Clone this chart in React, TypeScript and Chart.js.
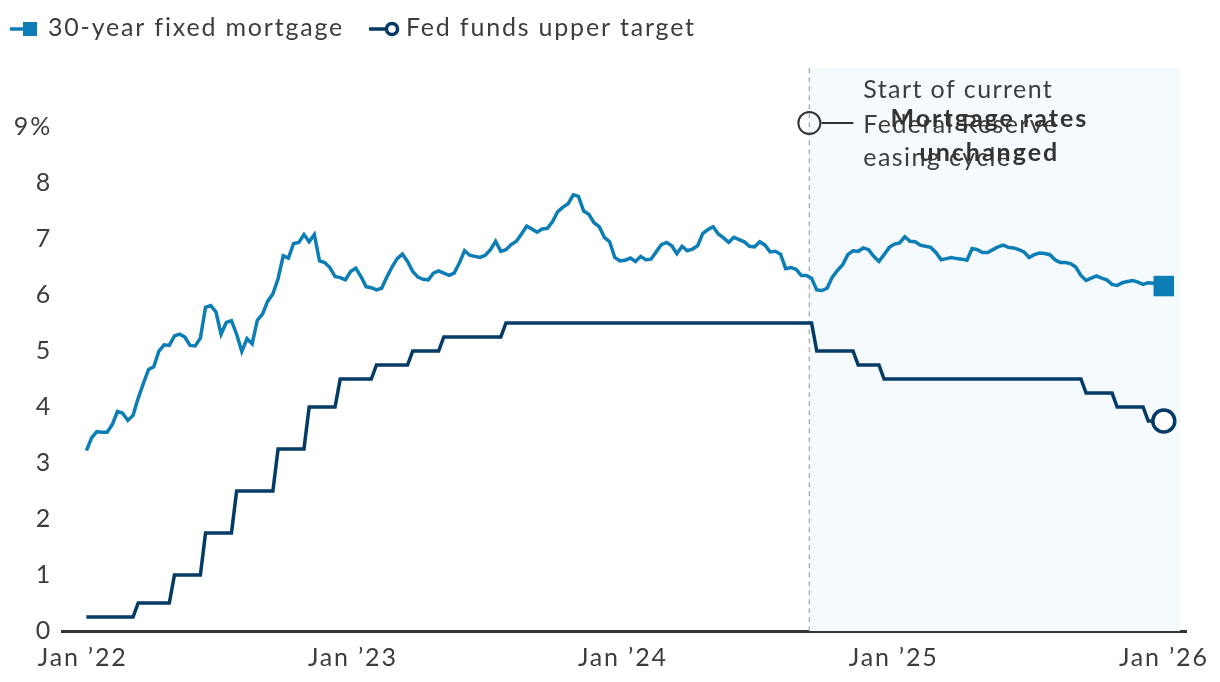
import React, { useEffect, useRef } from "react";
import { Chart, registerables } from "chart.js";

Chart.register(...registerables);

// ---------- DATA ----------
const mortgageFirstWeek = "2022-01-06"; // weekly (Thursday) survey dates from here on

const mortgage2022 = [
  3.22, 3.45, 3.56, 3.55, 3.55, 3.69, 3.92, 3.89, 3.76, 3.85, 4.16, 4.42, 4.67,
  4.72, 5.0, 5.11, 5.1, 5.27, 5.3, 5.25, 5.1, 5.09, 5.23, 5.78, 5.81, 5.7, 5.3,
  5.51, 5.54, 5.3, 4.99, 5.22, 5.13, 5.55, 5.66, 5.89, 6.02, 6.29, 6.7, 6.66,
  6.92, 6.94, 7.08, 6.95, 7.08, 6.61, 6.58, 6.49, 6.33, 6.31, 6.27, 6.42,
];
const mortgage2023 = [
  6.48, 6.33, 6.15, 6.13, 6.09, 6.12, 6.32, 6.5, 6.65, 6.73, 6.6, 6.42, 6.32,
  6.28, 6.27, 6.39, 6.43, 6.39, 6.35, 6.39, 6.57, 6.79, 6.71, 6.69, 6.67, 6.71,
  6.81, 6.96, 6.78, 6.81, 6.9, 6.96, 7.09, 7.23, 7.18, 7.12, 7.18, 7.19, 7.31,
  7.49, 7.57, 7.63, 7.79, 7.76, 7.5, 7.44, 7.29, 7.22, 7.03, 6.95, 6.67, 6.61,
];
const mortgage2024 = [
  6.62, 6.66, 6.6, 6.69, 6.63, 6.64, 6.77, 6.9, 6.94, 6.88, 6.74, 6.87, 6.79,
  6.82, 6.88, 7.1, 7.17, 7.22, 7.09, 7.02, 6.94, 7.03, 6.99, 6.95, 6.87, 6.86,
  6.95, 6.89, 6.77, 6.78, 6.73, 6.47, 6.49, 6.46, 6.35, 6.35, 6.3, 6.09, 6.08,
  6.12, 6.32, 6.44, 6.54, 6.72, 6.79, 6.78, 6.84, 6.81, 6.69, 6.6, 6.72, 6.85,
];
const mortgage2025 = [
  6.91, 6.93, 7.04, 6.96, 6.95, 6.89, 6.87, 6.85, 6.76, 6.63, 6.65, 6.67, 6.65,
  6.64, 6.62, 6.83, 6.81, 6.76, 6.76, 6.81, 6.86, 6.89, 6.85, 6.84, 6.81, 6.77,
  6.67, 6.72, 6.75, 6.74, 6.72, 6.63, 6.58, 6.58, 6.56, 6.5, 6.35, 6.26, 6.3,
  6.34, 6.3, 6.27, 6.19, 6.17, 6.22, 6.24, 6.26, 6.23, 6.19, 6.22, 6.21, 6.18,
];
const mortgage2026 = [6.16];

// Fed funds upper target, weekly readings around each change
const fedFunds: [string, number][] = [
  ["2022-01-06", 0.25], ["2022-03-10", 0.25], ["2022-03-17", 0.5],
  ["2022-04-28", 0.5], ["2022-05-05", 1.0], ["2022-06-09", 1.0],
  ["2022-06-16", 1.75], ["2022-07-21", 1.75], ["2022-07-28", 2.5],
  ["2022-09-15", 2.5], ["2022-09-22", 3.25], ["2022-10-27", 3.25],
  ["2022-11-03", 4.0], ["2022-12-08", 4.0], ["2022-12-15", 4.5],
  ["2023-01-26", 4.5], ["2023-02-02", 4.75], ["2023-03-16", 4.75],
  ["2023-03-23", 5.0], ["2023-04-27", 5.0], ["2023-05-04", 5.25],
  ["2023-07-20", 5.25], ["2023-07-27", 5.5], ["2024-09-12", 5.5],
  ["2024-09-19", 5.0], ["2024-11-07", 5.0], ["2024-11-14", 4.75],
  ["2024-12-12", 4.75], ["2024-12-19", 4.5], ["2025-09-11", 4.5],
  ["2025-09-18", 4.25], ["2025-10-23", 4.25], ["2025-10-30", 4.0],
  ["2025-12-04", 4.0], ["2025-12-11", 3.75], ["2026-01-01", 3.75],
];

const xTickDates = ["2022-01-01", "2023-01-01", "2024-01-01", "2025-01-01", "2026-01-01"];
const xTickLabels = ["Jan \u201922", "Jan \u201923", "Jan \u201924", "Jan \u201925", "Jan \u201926"];
const yTickValues = [0, 1, 2, 3, 4, 5, 6, 7, 8, 9];
const xRange = ["2021-12-04", "2026-01-31"];
const yRange = [0, 10];

const easingStart = "2024-09-09";
const shadeEnd = "2026-01-23";
const easingMarkerY = 9.07;
const easingNote = ["Start of current", "Federal Reserve", "easing cycle"];
const calloutNote = ["Mortgage rates", "unchanged"];

const seriesNames = ["30-year fixed mortgage", "Fed funds upper target"];

// ---------- STYLE ----------
const MORTGAGE = "#0c7db5";
const FED = "#033b66";
const TEXT = "#3d3d3d";
const FONT = "Lato, 'Noto Sans', sans-serif";
const FS = 25;
const SPACING = "1.8px";

const EPOCH = Date.UTC(2022, 0, 1);
const dayOf = (s: string) => (Date.parse(s + "T00:00:00Z") - EPOCH) / 86400000;

const mortgageRates = [...mortgage2022, ...mortgage2023, ...mortgage2024, ...mortgage2025, ...mortgage2026];

export default function App() {
  const ref = useRef<HTMLCanvasElement | null>(null);

  useEffect(() => {
    document.body.style.margin = "0";
    const canvas = ref.current;
    if (!canvas) return;

    const firstDay = dayOf(mortgageFirstWeek);
    const mortgagePts = mortgageRates.map((v, i) => ({ x: firstDay + 7 * i, y: v }));
    const fedPts = fedFunds.map(([d, v]) => ({ x: dayOf(d), y: v }));
    const lastM = mortgagePts.length - 1;
    const lastF = fedPts.length - 1;

    const backgroundPlugin = {
      id: "bgShade",
      beforeDraw(chart: any) {
        (chart.ctx as any).letterSpacing = SPACING;
      },
      beforeDatasetsDraw(chart: any) {
        const { ctx, scales } = chart;
        const xs = scales.x, ys = scales.y;
        const x0 = xs.getPixelForValue(dayOf(easingStart));
        const x1 = xs.getPixelForValue(dayOf(shadeEnd));
        const yTop = ys.getPixelForValue(10.05);
        const yBot = ys.getPixelForValue(0);
        ctx.save();
        ctx.fillStyle = "#f4fafd";
        ctx.fillRect(x0, yTop, x1 - x0, yBot - yTop);
        ctx.strokeStyle = "#b5b5b5";
        ctx.lineWidth = 1.5;
        ctx.setLineDash([5, 4]);
        ctx.beginPath();
        ctx.moveTo(x0, yTop);
        ctx.lineTo(x0, yBot);
        ctx.stroke();
        ctx.restore();
      },
      afterDatasetsDraw(chart: any) {
        const { ctx, scales } = chart;
        const xs = scales.x, ys = scales.y;
        const cx = xs.getPixelForValue(dayOf(easingStart));
        const cy = ys.getPixelForValue(easingMarkerY);
        ctx.save();
        ctx.strokeStyle = "#333333";
        ctx.lineWidth = 2;
        ctx.beginPath();
        ctx.arc(cx, cy, 11, 0, Math.PI * 2);
        ctx.stroke();
        ctx.beginPath();
        ctx.moveTo(cx + 12, cy);
        ctx.lineTo(cx + 44, cy);
        ctx.stroke();
        ctx.fillStyle = TEXT;
        ctx.letterSpacing = "1.4px";
        ctx.font = `${FS}px ${FONT}`;
        ctx.textAlign = "left";
        ctx.textBaseline = "alphabetic";
        const tx = cx + 54;
        const bases = [98, 133, 166];
        easingNote.forEach((t, i) => ctx.fillText(t, tx, bases[i]));
        ctx.fillStyle = "#333333";
        ctx.letterSpacing = "2px";
        ctx.font = `bold ${FS}px ${FONT}`;
        ctx.textAlign = "center";
        const bx = cx + 180;
        const bb = [127, 161];
        calloutNote.forEach((t, i) => ctx.fillText(t, bx, bb[i]));
        ctx.restore();
      },
      afterDraw(chart: any) {
        const { ctx } = chart;
        ctx.save();
        ctx.letterSpacing = SPACING;
        const y = 28;
        // item 1
        ctx.strokeStyle = MORTGAGE;
        ctx.lineWidth = 3.5;
        ctx.beginPath();
        ctx.moveTo(10, y + 1);
        ctx.lineTo(26, y + 1);
        ctx.stroke();
        ctx.fillStyle = MORTGAGE;
        ctx.fillRect(23, y - 6, 14, 14);
        ctx.fillStyle = TEXT;
        ctx.font = `${FS}px ${FONT}`;
        ctx.textBaseline = "middle";
        ctx.textAlign = "left";
        ctx.fillText(seriesNames[0], 48, y);
        // item 2
        ctx.strokeStyle = FED;
        ctx.lineWidth = 3.5;
        ctx.beginPath();
        ctx.moveTo(369, y + 1);
        ctx.lineTo(386, y + 1);
        ctx.stroke();
        ctx.beginPath();
        ctx.arc(392, y + 1, 5.5, 0, Math.PI * 2);
        ctx.fillStyle = "#ffffff";
        ctx.fill();
        ctx.stroke();
        ctx.fillStyle = TEXT;
        ctx.fillText(seriesNames[1], 406, y);
        ctx.restore();
      },
    };

    const chart = new Chart(canvas, {
      type: "line",
      data: {
        datasets: [
          {
            label: seriesNames[0],
            data: mortgagePts,
            borderColor: MORTGAGE,
            backgroundColor: MORTGAGE,
            borderWidth: 3.5,
            tension: 0,
            pointStyle: "rect",
            pointRadius: (c: any) => (c.dataIndex === lastM ? 14.5 : 0),
            pointBorderWidth: 0,
            pointBackgroundColor: MORTGAGE,
          },
          {
            label: seriesNames[1],
            data: fedPts,
            borderColor: FED,
            backgroundColor: "#ffffff",
            borderWidth: 3.5,
            tension: 0,
            pointStyle: "circle",
            pointRadius: (c: any) => (c.dataIndex === lastF ? 11 : 0),
            pointBorderWidth: 3.5,
            pointBorderColor: FED,
            pointBackgroundColor: "#ffffff",
          },
        ],
      },
      options: {
        animation: false,
        responsive: false,
        events: [],
        layout: { padding: { top: 71, right: 34, left: 0, bottom: 0 } },
        plugins: { legend: { display: false }, tooltip: { enabled: false }, title: { display: false } },
        scales: {
          x: {
            type: "linear",
            min: dayOf(xRange[0]),
            max: dayOf(xRange[1]),
            afterBuildTicks: (s: any) => {
              s.ticks = xTickDates.map((d) => ({ value: dayOf(d) }));
            },
            afterFit: (s: any) => {
              s.height = 51;
            },
            grid: { display: false, drawTicks: false },
            border: { display: true, color: "#333333", width: 3 },
            ticks: {
              autoSkip: false,
              maxRotation: 0,
              padding: 12,
              color: TEXT,
              font: { family: FONT, size: FS },
              callback: (v: any) => {
                const i = xTickDates.findIndex((d) => Math.abs(dayOf(d) - v) < 0.5);
                return i >= 0 ? xTickLabels[i] : "";
              },
            },
          },
          y: {
            type: "linear",
            min: yRange[0],
            max: yRange[1],
            afterBuildTicks: (s: any) => {
              s.ticks = yTickValues.map((v) => ({ value: v }));
            },
            afterFit: (s: any) => {
              s.width = 62;
            },
            grid: { display: false, drawTicks: false },
            border: { display: false },
            ticks: {
              padding: 10,
              color: TEXT,
              font: { family: FONT, size: FS },
              callback: (v: any) => (v === 9 ? "9%" : String(v)),
            },
          },
        },
      },
      plugins: [backgroundPlugin],
    } as any);

    return () => chart.destroy();
  }, []);

  return (
    <div style={{ position: "absolute", left: 0, top: 0, width: 1220, height: 682 }}>
      <canvas ref={ref} width={1220} height={682} style={{ display: "block", width: 1220, height: 682 }} />
    </div>
  );
}
